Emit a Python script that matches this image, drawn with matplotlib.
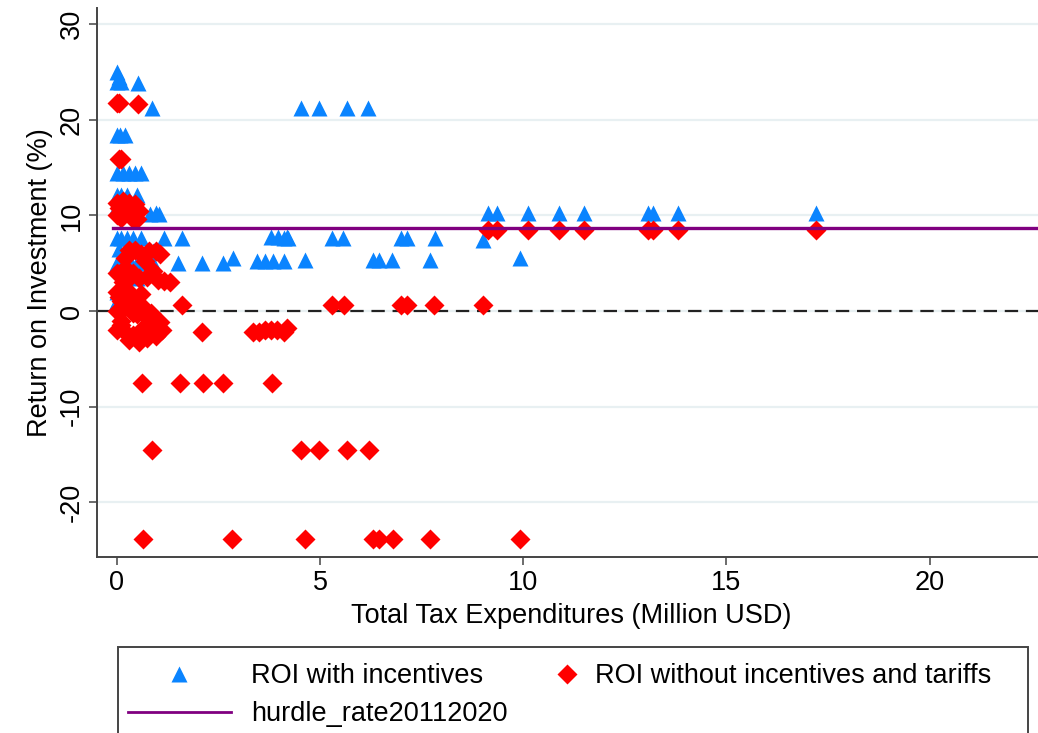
import matplotlib
matplotlib.use("Agg")
import matplotlib.pyplot as plt
from matplotlib.lines import Line2D
from matplotlib.patches import Rectangle
import numpy as np

plt.rcParams['font.family'] = ['Liberation Sans', 'DejaVu Sans']
plt.rcParams['axes.unicode_minus'] = False

# ROI with incentives (blue triangles): tax expenditure (million USD), ROI (%)
inc_x = [0.0, 0.05, 0.1, 0.0, 0.53, 0.87,
         0.0, 0.08, 0.2,
         0.0, 0.15, 0.3, 0.45, 0.6,
         0.0, 0.1, 0.25, 0.5,
         0.0, 0.3, 0.82, 0.95, 1.04,
         0.0, 0.1, 0.25, 0.4, 0.6, 1.16, 1.6,
         0.05, 0.3, 0.9,
         0.0, 0.15, 0.35, 0.5, 0.7, 0.9, 1.5, 2.1, 2.62, 2.85, 3.45, 3.65, 3.85, 4.1,
         0.5, 0.0, 0.0,
         3.78, 3.97, 4.19, 4.1, 4.2,
         4.54, 4.97, 5.67, 6.19,
         5.3, 5.57, 7.0, 7.15, 7.83, 9.0,
         4.64, 6.3, 6.45, 6.77, 7.7, 9.92,
         9.14, 9.35, 10.12, 10.89, 11.5, 13.08, 13.2, 13.8, 17.2]
inc_y = [25.0, 24.5, 24.0, 24.0, 23.9, 21.2,
         18.4, 18.4, 18.4,
         14.4, 14.4, 14.4, 14.4, 14.4,
         12.1, 12.1, 12.1, 12.1,
         11.0, 10.5, 10.2, 10.3, 10.2,
         7.6, 7.6, 7.6, 7.6, 7.6, 7.6, 7.6,
         6.5, 6.5, 6.3,
         5.0, 5.0, 5.0, 5.0, 5.0, 5.0, 5.0, 5.0, 5.0, 5.5, 5.2, 5.2, 5.2, 5.2,
         3.5, 2.0, 1.0,
         7.7, 7.7, 7.7, 7.6, 7.6,
         21.2, 21.2, 21.2, 21.2,
         7.6, 7.6, 7.6, 7.6, 7.6, 7.4,
         5.3, 5.3, 5.3, 5.3, 5.3, 5.5,
         10.3, 10.3, 10.3, 10.3, 10.3, 10.3, 10.3, 10.3, 10.3]

# ROI without incentives and tariffs (red diamonds)
noinc_x = [0.0, 0.05, 0.53,
           0.05, 0.1,
           0.0, 0.15, 0.3, 0.45, 0.55, 0.0, 0.1, 0.4, 0.2, 0.5, 0.05, 0.35,
           0.3, 0.45, 0.6, 0.8, 0.95, 1.05, 0.2, 0.7,
           0.0, 0.2, 0.4, 0.55, 0.75, 1.0, 1.3, 0.15, 0.9, 1.15,
           0.0, 0.3, 0.1, 0.45, 0.0, 0.25, 0.5, 0.1, 0.75, 0.95, 1.07,
           0.2, 0.05, 0.35, 0.6, 0.15, 0.4, 0.65, 0.85,
           0.0, 0.2, 0.4, 0.6, 0.85, 1.1, 0.3, 0.55, 0.75, 0.1, 0.95,
           1.6,
           2.1, 3.36, 3.5, 3.65, 3.8, 3.95, 4.1, 4.19,
           0.62, 1.56, 2.13, 2.62, 3.82,
           0.87, 4.54, 4.97, 5.66, 6.2,
           0.65, 2.84, 4.64, 6.3, 6.45, 6.8, 7.71, 9.92,
           5.3, 5.6, 7.0, 7.15, 7.81, 9.02,
           9.14, 9.35, 10.12, 10.89, 11.5, 13.08, 13.2, 13.8, 17.2]
noinc_y = [21.8, 21.8, 21.7,
           15.9, 15.9,
           11.3, 11.5, 11.3, 11.2, 10.5, 10.0, 9.7, 9.6, 10.5, 9.6, 10.8, 10.2,
           6.4, 6.4, 6.0, 6.3, 6.3, 6.0, 5.5, 5.2,
           4.0, 4.5, 4.0, 3.5, 3.6, 3.2, 3.0, 3.0, 4.2, 3.1,
           2.0, 2.0, 1.0, 1.0, 0.0, 0.5, -0.3, -1.0, -0.6, -1.0, -1.2,
           3.0, 1.5, 1.2, 1.8, 0.2, -0.2, 0.4, -0.2,
           -2.0, -2.2, -2.5, -2.0, -2.0, -2.0, -3.0, -3.2, -2.8, -1.5, -2.6,
           0.6,
           -2.2, -2.2, -2.2, -2.0, -2.0, -2.0, -2.2, -1.8,
           -7.5, -7.5, -7.5, -7.5, -7.5,
           -14.5, -14.5, -14.5, -14.5, -14.5,
           -23.9, -23.9, -23.9, -23.9, -23.9, -23.9, -23.9, -23.9,
           0.6, 0.6, 0.6, 0.6, 0.6, 0.6,
           8.5, 8.5, 8.5, 8.5, 8.5, 8.5, 8.5, 8.5, 8.5]

hurdle_x = [-0.1, 23.0]
hurdle_y = [8.65, 8.65]
yticks = [-20, -10, 0, 10, 20, 30]
xticks = [0, 5, 10, 15, 20]

blue = '#0a84ff'
red = '#ff0000'
purple = '#800080'
fs = 19.5

fig = plt.figure(figsize=(10.38, 7.33), dpi=100)
ax = fig.add_axes([97/1038, 1-556.7/733, (1045-97)/1038, (556.7-8)/733])

ax.set_xlim(-0.49, 22.84)
ax.set_ylim(-25.7, 31.7)
ax.set_yticks(yticks)
ax.set_xticks(xticks)
ax.grid(axis='y', color='#e8f0f2', lw=1.6, zorder=0)
ax.set_axisbelow(True)

ax.axhline(0, color='#222222', lw=1.6, ls=(0, (6, 3.5)), zorder=1)
ax.plot(inc_x, inc_y, ls='none', marker='^', ms=12, color=blue, mec='none', zorder=2)
ax.plot(noinc_x, noinc_y, ls='none', marker='D', ms=10, color=red, mec='none', zorder=3)
ax.plot(hurdle_x, hurdle_y, color=purple, lw=2.4, zorder=4)

for s in ['top', 'right']:
    ax.spines[s].set_visible(False)
for s in ['left', 'bottom']:
    ax.spines[s].set_color('#444444')
    ax.spines[s].set_linewidth(1.4)
ax.tick_params(direction='out', length=6, width=1.1, color='#444444', labelsize=fs)
ax.tick_params(axis='y', labelrotation=90, pad=3)
for t in ax.get_yticklabels():
    t.set_verticalalignment('center')
ax.set_xlabel('Total Tax Expenditures (Million USD)', fontsize=fs, labelpad=5)
ax.set_ylabel('Return on Investment (%)', fontsize=fs, labelpad=4)

# legend box
fig.patches.append(Rectangle((118/1038, -0.05), 910/1038, 0.05 + 1-647/733,
                             transform=fig.transFigure, fill=False, ec='#444444', lw=1.4))
h1 = Line2D([], [], ls='none', marker='^', ms=12, color=blue, mec='none')
h2 = Line2D([], [], color=purple, lw=2.0)
h3 = Line2D([], [], ls='none', marker='D', ms=10, color=red, mec='none')
fig.legend([h1, h2], ['ROI with incentives', 'hurdle_rate20112020'], loc='upper left',
           bbox_to_anchor=(128/1038, 1-663/733), frameon=False, fontsize=fs,
           handlelength=3.8, handletextpad=0.75, labelspacing=0.45, borderaxespad=0,
           borderpad=0)
fig.legend([h3], ['ROI without incentives and tariffs'], loc='upper left',
           bbox_to_anchor=(553/1038, 1-663/733), frameon=False, fontsize=fs,
           handlelength=1.0, handletextpad=0.55, borderaxespad=0, borderpad=0)

fig.savefig('out.png', dpi=100)
